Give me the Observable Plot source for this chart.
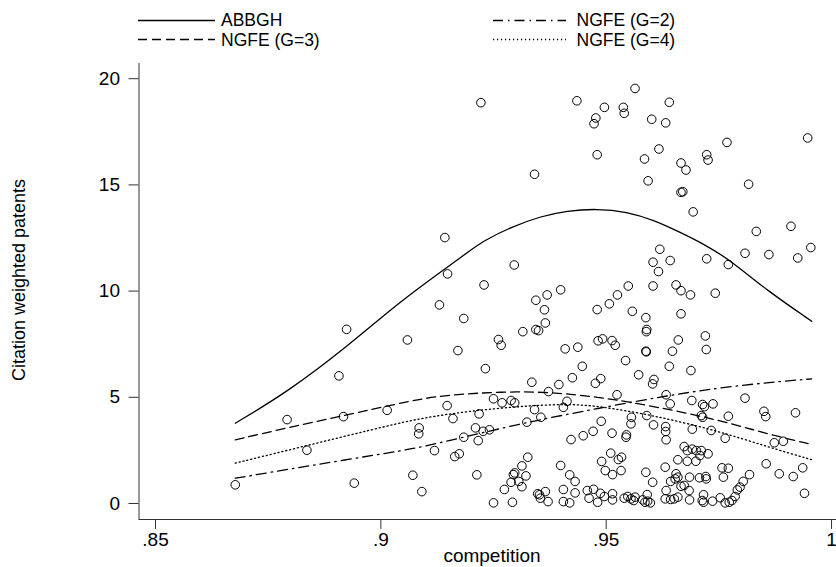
<!DOCTYPE html>
<html><head><meta charset="utf-8">
<script src="https://cdn.jsdelivr.net/npm/d3@7"></script>
<script src="https://cdn.jsdelivr.net/npm/@observablehq/plot@0.6"></script>
<style>
body{margin:0;background:#fff;}
#wrap{position:relative;width:836px;height:567px;font-family:"Liberation Sans",Arial,Helvetica,sans-serif;}
#wrap svg{position:absolute;left:0;top:0;}
</style></head><body><div id="wrap"></div>
<script>
// Scatter data: competition (x) and citation weighted patents (y)
const competition = [
.9222,.9435,.9496,.9538,.9540,.9477,.9473,.9564,.9640,.9601,.9632,.9480,.9617,.9585,.9666,.9677,.9723,.9726,.9768,.9947,
.9341,.9593,.9666,.9670,.9816,.9693,.9142,.9833,.9910,.9954,.9619,.9604,.9642,.9723,.9808,.9861,.9925,.9771,.9616,.9296,
.9148,.9229,.9130,.9184,.9059,.9171,.9232,.9344,.9369,.9399,.9363,.9365,.9315,.9344,.9350,.9261,.9267,.9409,.9437,.9447,
.9480,.9507,.9525,.9549,.9604,.9655,.9666,.9687,.9742,.9558,.9588,.9590,.9589,.9666,.9482,.9492,.9513,.9520,.9588,.9589,
.9660,.9647,.9720,.9722,.9543,.9640,.9688,.9572,.9335,.9395,.9425,.9476,.9488,.9603,.9606,.9372,.9524,.9633,.9808,.9147,
.9250,.9269,.9289,.9297,.9413,.9405,.9341,.9355,.9642,.9690,.9714,.9718,.9737,.9218,.9160,.9085,.9084,.9210,.9227,.9241,
.9324,.9489,.9556,.9555,.9590,.9605,.9711,.9714,.9771,.9850,.9854,.9920,.9632,.9632,.9633,.9691,.9733,.9764,.9873,.9893,
.9184,.9216,.9119,.9164,.9174,.9422,.9449,.9471,.9513,.9545,.9544,.9071,.9091,.9213,.9326,.9313,.9297,.9294,.9322,.9306,
.9289,.9313,.9274,.9250,.9292,.9348,.9352,.9365,.9354,.9371,.9399,.9419,.9431,.9405,.9431,.9405,.9419,.9458,.9472,.9462,
.9481,.9487,.9496,.9514,.9514,.9490,.9510,.9527,.9534,.9498,.9514,.9533,.9540,.9548,.9555,.9564,.9561,.9581,.9591,.9592,
.9598,.9586,.9588,.9603,.9631,.9633,.9631,.9643,.9643,.9655,.9659,.9653,.9666,.9673,.9659,.9651,.9673,.9680,.9691,.9700,
.9711,.9708,.9726,.9659,.9680,.9699,.9685,.9684,.9685,.9707,.9721,.9722,.9716,.9713,.9716,.9736,.9753,.9764,.9773,.9779,
.9786,.9791,.9797,.9804,.9818,.9757,.9771,.9760,.9855,.9884,.9915,.9936,.9940,.8677,.8792,.8836,.8924,.8907,.8917,.8941,
.9014];
const citations = [
18.87,18.96,18.65,18.65,18.37,18.15,17.88,19.54,18.89,18.09,17.92,16.42,16.69,16.22,16.03,15.70,16.42,16.17,17.00,17.21,
15.50,15.19,14.65,14.68,15.03,13.73,12.52,12.81,13.05,12.05,11.97,11.36,11.44,11.52,11.78,11.72,11.56,11.25,10.92,11.23,
10.81,10.29,9.35,8.71,7.70,7.20,6.35,9.57,9.82,10.06,9.12,8.50,8.09,8.19,8.14,7.72,7.45,7.28,7.36,6.46,
9.13,9.40,9.82,10.24,10.24,10.29,10.02,9.82,9.90,9.05,8.75,8.19,8.09,8.93,7.66,7.75,7.67,7.45,7.17,7.14,
7.70,7.17,7.89,7.25,6.73,6.46,6.26,6.06,5.71,5.60,5.92,5.66,5.88,5.63,5.84,5.27,5.12,5.12,4.96,4.61,
4.93,4.74,4.85,4.74,4.81,4.53,4.42,4.06,4.69,4.85,4.66,4.56,4.69,4.22,4.00,3.56,3.28,3.56,3.40,3.47,
3.83,3.87,4.06,3.75,4.14,3.70,4.14,4.06,4.11,4.34,4.09,4.27,3.62,3.39,3.00,3.50,3.44,3.07,2.86,2.93,
3.12,2.96,2.49,2.21,2.34,3.01,3.19,3.40,3.31,3.23,3.12,1.33,0.56,1.35,2.18,1.77,1.44,1.36,1.30,1.04,
1.00,0.79,0.66,0.03,0.06,0.46,0.41,0.56,0.25,0.09,1.79,1.35,1.04,0.66,0.50,0.09,0.03,0.61,0.67,0.25,
0.06,0.48,0.33,0.46,0.17,1.98,2.37,2.07,2.18,1.55,1.36,1.55,0.25,0.33,0.22,0.30,0.14,0.17,0.42,0.11,
0.03,0.06,1.47,1.00,1.71,0.61,0.22,0.19,1.04,1.40,1.24,1.16,0.81,0.85,0.30,0.22,2.68,2.49,2.56,2.49,
2.49,2.26,2.34,2.06,1.99,1.99,1.24,0.61,0.17,1.21,1.27,1.16,0.41,0.14,0.06,0.11,0.27,0.03,0.06,0.14,
0.33,0.64,0.77,1.04,1.36,1.68,1.66,1.24,1.87,1.40,1.27,1.68,0.48,0.88,3.95,2.51,8.20,6.01,4.09,0.96,
4.39];

// Fitted curves
const seriesNames = ["ABBGH", "NGFE (G=2)", "NGFE (G=3)", "NGFE (G=4)"];
const abbghX = [.8677,.8792,.8924,.9043,.9147,.9198,.9228,.9287,.9354,.9413,.9479,.9546,.9605,.9664,.9723,.9775,.9856,.9956];
const abbghY = [3.78,5.24,7.36,9.52,11.12,11.91,12.36,13.00,13.52,13.78,13.88,13.74,13.35,12.77,12.14,11.46,10.04,8.58];
const ngfe2X = [.8677,.8792,.8917,.9058,.9088,.9184,.9324,.9487,.9635,.9782,.9956];
const ngfe2Y = [1.19,1.60,2.04,2.53,2.65,3.12,3.83,4.50,5.08,5.55,5.87];
const ngfe3X = [.8677,.8792,.8917,.9043,.9088,.9154,.9265,.9372,.9487,.9561,.9671,.9782,.9856,.9956];
const ngfe3Y = [3.00,3.56,4.14,4.72,4.92,5.12,5.26,5.26,5.00,4.74,4.30,3.75,3.28,2.78];
const ngfe4X = [.8677,.8792,.8917,.9043,.9088,.9191,.9339,.9428,.9487,.9598,.9745,.9856,.9956];
const ngfe4Y = [1.90,2.50,3.15,3.80,4.00,4.35,4.63,4.68,4.57,4.18,3.44,2.68,2.06];

const xTicks = [0.85, 0.9, 0.95, 1];
const xTickLabels = [".85", ".9", ".95", "1"];
const yTicks = [0, 5, 10, 15, 20];
const xTitle = "competition";
const yTitle = "Citation weighted patents";

const dashes = {"ABBGH": null, "NGFE (G=2)": "10,5,1.5,5", "NGFE (G=3)": "9,5", "NGFE (G=4)": "1.2,2.8"};

const points = competition.map((c, i) => ({competition: c, citations: citations[i]}));
const curveSets = [[abbghX, abbghY], [ngfe2X, ngfe2Y], [ngfe3X, ngfe3Y], [ngfe4X, ngfe4Y]];
const lines = curveSets.map(([xs, ys], k) => xs.map((x, i) => ({series: seriesNames[k], x, y: ys[i]})));

const xDomain = [0.84634, 1.0011];
const yDomain = [-0.753, 20.715];
const font = '"Liberation Sans",Arial,Helvetica,sans-serif';
const axisColor = "#333";

const chart = Plot.plot({
  width: 836, height: 567,
  marginLeft: 138.5, marginRight: 0, marginTop: 63, marginBottom: 48,
  style: {fontFamily: font, fontSize: "19px", color: "#000", background: "transparent", overflow: "visible"},
  x: {domain: xDomain},
  y: {domain: yDomain},
  marks: [
    Plot.ruleX([xDomain[0]], {stroke: axisColor, strokeWidth: 1}),
    Plot.ruleY([yDomain[0]], {stroke: axisColor, strokeWidth: 1}),
    Plot.axisX({ticks: xTicks, tickFormat: d => xTickLabels[xTicks.indexOf(d)], tickSize: 10, tickPadding: 3, fontSize: 19, label: null, stroke: axisColor, fill: "#000"}),
    Plot.axisY({ticks: yTicks, tickSize: 10, tickPadding: 9, fontSize: 19, label: null, stroke: axisColor, fill: "#000"}),
    Plot.dot(points, {x: "competition", y: "citations", r: 4.3, stroke: "#000", strokeWidth: 1, fill: "none"}),
    ...lines.map((data, k) => Plot.line(data, {x: "x", y: "y", curve: "basis", stroke: "#000", strokeWidth: 1.3,
       strokeDasharray: dashes[seriesNames[k]] || undefined}))
  ]
});
const wrap = document.getElementById("wrap");
wrap.appendChild(chart);

// Overlay: legend and axis titles
const ns = "http://www.w3.org/2000/svg";
const ov = document.createElementNS(ns, "svg");
ov.setAttribute("width", 836); ov.setAttribute("height", 567);
ov.style.fontFamily = font;
function el(tag, attrs, text) {
  const e = document.createElementNS(ns, tag);
  for (const k in attrs) e.setAttribute(k, attrs[k]);
  if (text != null) e.textContent = text;
  ov.appendChild(e);
  return e;
}
const legendPos = {
  "ABBGH": [138, 215, 20.5, 221, 26],
  "NGFE (G=3)": [138, 215, 39.5, 221, 45.5],
  "NGFE (G=2)": [493, 566, 20.5, 576.5, 26],
  "NGFE (G=4)": [493, 566, 39.5, 576.5, 45.5]
};
for (const name of seriesNames) {
  const [x1, x2, ly, tx, ty] = legendPos[name];
  const a = {x1, x2, y1: ly, y2: ly, stroke: "#000", "stroke-width": 1.3};
  if (dashes[name]) a["stroke-dasharray"] = dashes[name];
  el("line", a);
  el("text", {x: tx, y: ty, "font-size": 17.5, fill: "#000"}, name);
}
el("text", {x: 492, y: 562, "font-size": 19, "text-anchor": "middle", fill: "#000"}, xTitle);
el("text", {transform: "translate(25,280) rotate(-90)", "font-size": 18, "text-anchor": "middle", fill: "#000"}, yTitle);
wrap.appendChild(ov);
</script></body></html>
